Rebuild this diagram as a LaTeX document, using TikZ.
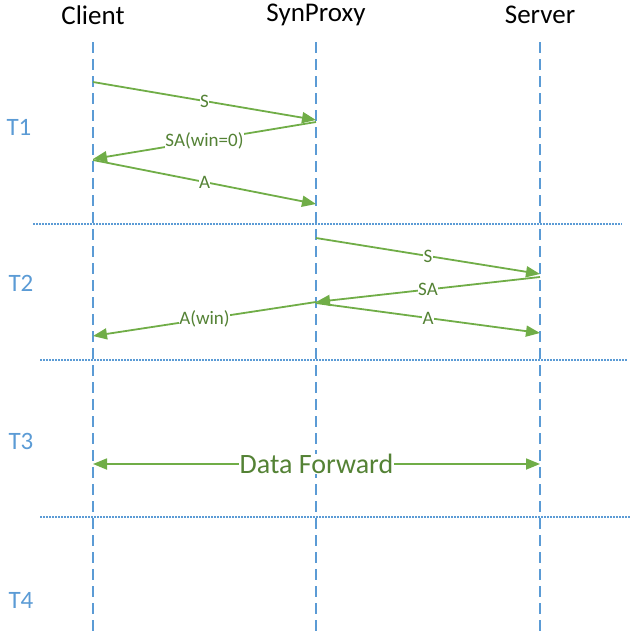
\documentclass[tikz,border=0pt]{standalone}
\usepackage{fontspec}
\setmainfont{Carlito}
\usetikzlibrary{arrows.meta}
\definecolor{lblue}{HTML}{5B9BD5}
\definecolor{lgreen}{HTML}{70AD47}
\definecolor{dgreen}{HTML}{548235}
\tikzset{
  lifeline/.style={draw=lblue, line width=1.5pt, dash pattern=on 11pt off 6pt},
  sepline/.style={draw=lblue, line width=1.3pt, dash pattern=on 1.5pt off 1.5pt},
  msg/.style={draw=lgreen, line width=1.8pt, -{Triangle[length=14pt,width=11pt]}},
  dmsg/.style={draw=lgreen, line width=1.8pt, {Triangle[length=14pt,width=11pt]}-{Triangle[length=14pt,width=11pt]}},
  mlabel/.style={fill=white, text=dgreen, font=\fontsize{19}{19}\selectfont, inner sep=0.5pt},
  actor/.style={font=\fontsize{27}{27}\selectfont, text=black},
  phase/.style={font=\fontsize{25}{25}\selectfont, text=lblue},
}
\begin{document}
\begin{tikzpicture}[x=1pt,y=-1pt]
\useasboundingbox (0,0) rectangle (634,641);
% actors
\node[actor] (client) at (93,15) {Client};
\node[actor] (proxy) at (316,15) {SynProxy};
\node[actor] (server) at (540,15) {Server};
% lifelines
\coordinate (ct) at (93,42); \coordinate (cb) at (93,634);
\coordinate (pt) at (316,42); \coordinate (pb) at (316,634);
\coordinate (st) at (540,42); \coordinate (sb) at (540,634);
\draw[lifeline] (ct) -- (cb);
\draw[lifeline] (pt) -- (pb);
\draw[lifeline] (st) -- (sb);
% separators
\coordinate (s1a) at (33,224); \coordinate (s1b) at (622,224);
\coordinate (s2a) at (40,360); \coordinate (s2b) at (628,360);
\coordinate (s3a) at (40,517); \coordinate (s3b) at (630,517);
\draw[sepline] (s1a) -- (s1b);
\draw[sepline] (s2a) -- (s2b);
\draw[sepline] (s3a) -- (s3b);
% phases
\node[phase] (t1) at (19,127) {T1};
\node[phase] (t2) at (21,283) {T2};
\node[phase] (t3) at (21,441) {T3};
\node[phase] (t4) at (21,600) {T4};
% T1 messages
\coordinate (c1) at (93,82); \coordinate (p1) at (316,120);
\coordinate (p2) at (316,122); \coordinate (c2) at (93,159);
\coordinate (c3) at (93,160); \coordinate (p3) at (316,204);
\draw[msg] (c1) -- node[mlabel] (l1) {S} (p1);
\draw[msg] (p2) -- node[mlabel] (l2) {SA(win=0)} (c2);
\draw[msg] (c3) -- node[mlabel] (l3) {A} (p3);
% T2 messages
\coordinate (p4) at (316,238); \coordinate (s4) at (540,274);
\coordinate (s5) at (540,277); \coordinate (p5) at (316,302);
\coordinate (p6) at (316,302); \coordinate (c6) at (93,336);
\coordinate (p7) at (316,303); \coordinate (s7) at (540,333);
\draw[msg] (p4) -- node[mlabel] (l4) {S} (s4);
\draw[msg] (s5) -- node[mlabel] (l5) {SA} (p5);
\draw[msg] (p6) -- node[mlabel] (l6) {A(win)} (c6);
\draw[msg] (p7) -- node[mlabel] (l7) {A} (s7);
% T3
\coordinate (c8) at (93,464); \coordinate (s8) at (540,464);
\draw[dmsg] (c8) -- node[mlabel, font=\fontsize{28}{28}\selectfont] (l8) {Data Forward} (s8);
\end{tikzpicture}
\end{document}
